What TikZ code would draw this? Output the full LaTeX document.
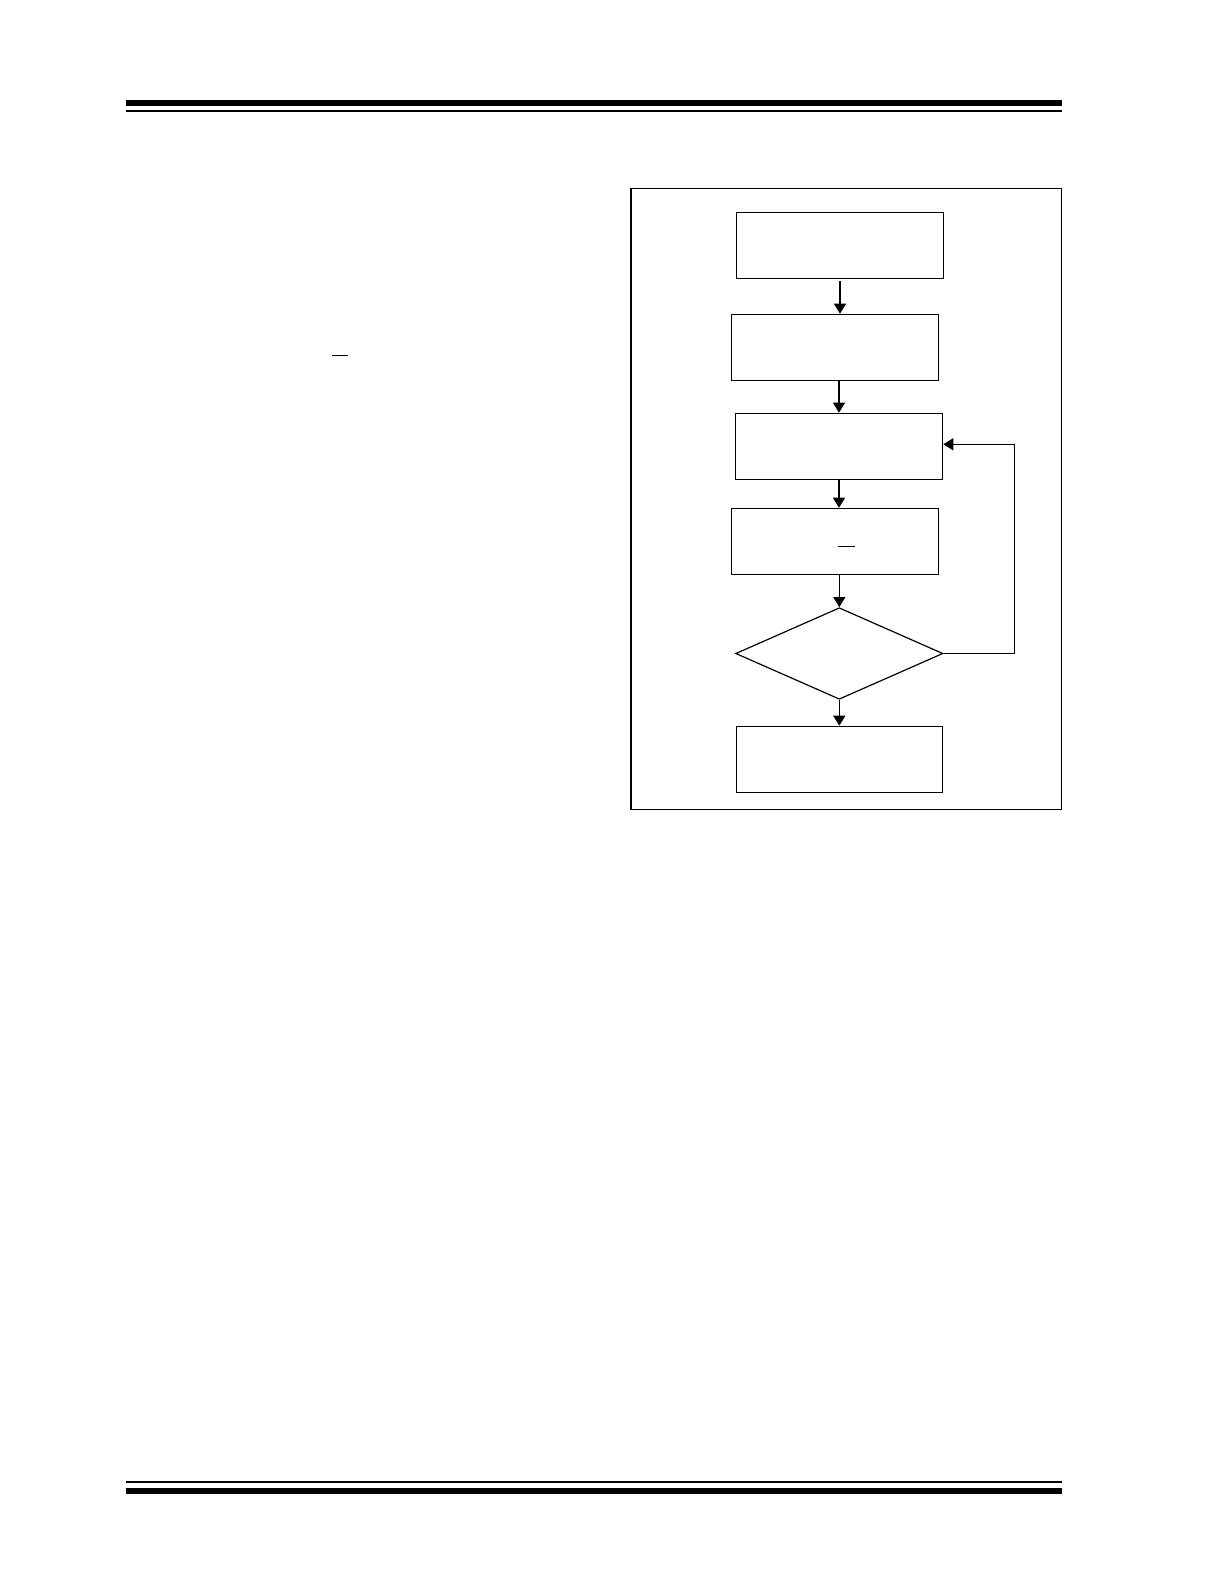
\documentclass[tikz,border=0pt]{standalone}
\usetikzlibrary{arrows.meta,shapes.geometric}
\begin{document}
\begin{tikzpicture}[x=0.5pt,y=-0.5pt,
  box/.style={draw=black,line width=0.6pt,rectangle,inner sep=0pt,minimum width=103.7pt,minimum height=33pt},
  decision/.style={draw=black,line width=0.6pt,diamond,inner sep=0pt,minimum width=103.65pt,minimum height=45.8pt},
  flow/.style={draw=black,line width=0.6pt,-{Triangle[length=5pt,width=6pt]}},
  rule/.style={fill=black,draw=none},
  frameline/.style={draw=black,line width=0.6pt},
  bar/.style={draw=black,line width=0.5pt}]
\useasboundingbox (0,0) rectangle (1224,1584);
% page rules
\fill[rule] (126,99.7) rectangle (1062,105.7);
\fill[rule] (126,109.7) rectangle (1062,111.7);
\fill[rule] (126,1481) rectangle (1062,1483);
\fill[rule] (126,1488.3) rectangle (1062,1494);
% stray overline in text column
\draw[bar] (331.7,355.3) -- (348,355.3);
% figure frame
\draw[frameline] (631,188.3) rectangle (1061.7,809.3);
% flowchart
\node[box] (b1) at (840,245.3) {};
\node[box] (b2) at (835,347.3) {};
\node[box] (b3) at (839,446.3) {};
\node[box] (b4) at (835,541.3) {};
\node[decision] (d) at (839.3,653.5) {};
\node[box,minimum width=103.2pt] (b5) at (839.5,759.3) {};
\draw[bar] (838,546.3) -- (855,546.3);
\draw[flow] ([yshift=-1pt]b1.south) -- (b1.south |- b2.north);
\draw[flow] (b3.north |- b2.south) -- (b3.north);
\draw[flow] (b3.south) -- (b3.south |- b4.north);
\draw[flow] (d.north |- b4.south) -- (d.north);
\draw[flow] (d.south) -- (d.south |- b5.north);
\coordinate (fbt) at (1014.3,444.3);
\draw[flow] (d.east) -| (fbt) -- (b3.east |- fbt);
\end{tikzpicture}
\end{document}
